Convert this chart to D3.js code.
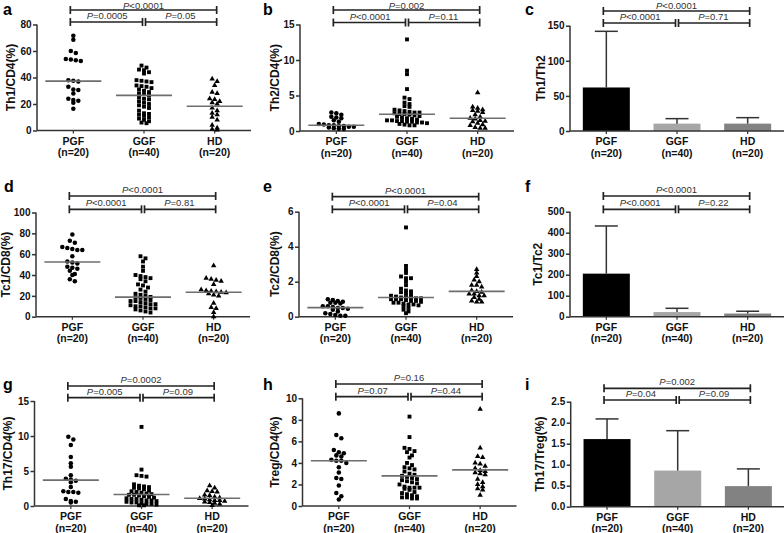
<!DOCTYPE html>
<html><head><meta charset="utf-8">
<script src="https://cdn.jsdelivr.net/npm/d3@7"></script>
<style>
html,body{margin:0;padding:0;background:#fff;}
svg{display:block;font-family:"Liberation Sans",Arial,sans-serif;}
</style></head>
<body>
<svg id="chart" width="784" height="533"></svg>
<script>
// ---------- DATA ----------
const categories = ["PGF", "GGF", "HD"];
const groupSizes = ["(n=20)", "(n=40)", "(n=20)"];

// a: Th1/CD4(%)
const aPGF = [71.5, 68.5, 60, 58.5, 54, 53.5, 53, 52.5, 38, 37.5, 37, 33, 31, 30.5, 28, 24, 23, 22.5, 21, 16.5];
const aGGF = [49, 47.5, 46, 45.5, 44, 43, 38, 37.5, 37, 36.5, 34, 33.5, 33, 32, 31, 30, 29, 28, 27.5, 26.5, 25, 24, 23.5, 22, 21, 20, 19, 18, 17, 15, 13, 12.5, 12, 11, 10, 9, 8, 7, 6, 5.5];
const aHD = [39, 37, 34, 29, 28, 24, 23.5, 22, 21, 20, 17, 15, 13, 12, 10, 8, 4, 2, 1, 0.5];
const aMedian = [37.3, 26.5, 18.3];
const aTicks = [0, 20, 40, 60, 80];
const aPvalues = ["<0.0001", "=0.0005", "=0.05"];

// b: Th2/CD4(%)
const bPGF = [2.6, 2.5, 2.3, 2.0, 1.9, 1.8, 1.5, 1.3, 1.0, 0.9, 0.8, 0.8, 0.7, 0.7, 0.6, 0.6, 0.5, 0.4, 0.3, 0.3];
const bGGF = [12.9, 8.5, 8.0, 5.9, 4.7, 4.5, 4.0, 3.8, 3.5, 3.4, 3.0, 2.9, 2.8, 2.7, 2.6, 2.6, 2.5, 2.4, 2.4, 2.3, 2.2, 2.1, 2.0, 1.9, 1.8, 1.7, 1.6, 1.5, 1.5, 1.4, 1.4, 1.3, 1.3, 1.2, 1.2, 1.1, 1.0, 0.9, 0.8, 0.8];
const bHD = [5.4, 3.4, 3.2, 3.0, 2.9, 2.8, 2.6, 2.3, 2.0, 1.8, 1.7, 1.5, 1.4, 1.3, 1.1, 0.9, 0.8, 0.5, 0.4, 0.4];
const bMedian = [0.8, 2.35, 1.8];
const bTicks = [0, 5, 10, 15];
const bPvalues = ["=0.002", "<0.0001", "=0.11"];

// c: Th1/Th2 (mean, upper error)
const cMean = [62, 10.5, 10.5];
const cError = [142, 17.6, 19];
const cTicks = [0, 50, 100, 150];
const cPvalues = ["<0.0001", "<0.0001", "=0.71"];

// d: Tc1/CD8(%)
const dPGF = [79, 73, 71, 67, 66, 65, 64, 64, 58, 53, 52, 51, 48, 47, 46, 44, 41, 40, 36, 34];
const dGGF = [58, 56, 53, 48, 44, 40, 39, 38, 37, 36, 34, 31, 30, 28, 26, 24, 22, 21, 20, 19, 18.5, 18, 17, 16, 15, 15, 14, 13, 12, 12, 11, 10, 10, 9, 8, 8, 7, 6, 5, 4];
const dHD = [49, 37, 36, 35, 34, 31, 26, 25, 24.5, 24, 23.5, 23, 22, 21, 20, 13, 9, 8, 4, 0];
const dMedian = [52.5, 18.8, 23.5];
const dTicks = [0, 20, 40, 60, 80, 100];
const dPvalues = ["<0.0001", "<0.0001", "=0.81"];

// e: Tc2/CD8(%)
const ePGF = [1.0, 0.95, 0.9, 0.85, 0.8, 0.8, 0.75, 0.6, 0.6, 0.55, 0.5, 0.5, 0.45, 0.4, 0.3, 0.2, 0.15, 0.1, 0.05, 0.05];
const eGGF = [5.1, 2.9, 2.7, 2.5, 2.3, 2.2, 2.2, 2.0, 1.8, 1.6, 1.5, 1.45, 1.4, 1.3, 1.25, 1.2, 1.15, 1.1, 1.1, 1.1, 1.05, 1.05, 1.0, 1.0, 1.0, 0.95, 0.9, 0.9, 0.85, 0.8, 0.8, 0.75, 0.7, 0.7, 0.65, 0.6, 0.5, 0.4, 0.3, 0.2];
const eHD = [2.7, 2.5, 2.3, 2.1, 2.0, 1.8, 1.8, 1.7, 1.5, 1.45, 1.4, 1.3, 1.3, 1.2, 1.2, 1.1, 1.0, 0.9, 0.85, 0.85];
const eMedian = [0.52, 1.1, 1.45];
const eTicks = [0, 2, 4, 6];
const ePvalues = ["<0.0001", "<0.0001", "=0.04"];

// f: Tc1/Tc2 (mean, upper error)
const fMean = [205, 22, 15];
const fError = [432, 40, 26];
const fTicks = [0, 100, 200, 300, 400, 500];
const fPvalues = ["<0.0001", "<0.0001", "=0.22"];

// g: Th17/CD4(%)
const gPGF = [9.9, 9.5, 8.7, 7.0, 6.1, 5.6, 4.4, 3.9, 3.8, 3.6, 3.4, 2.7, 2.1, 2.0, 2.0, 1.9, 1.0, 0.7, 0.6, 0.5];
const gGGF = [11.3, 5.2, 4.4, 4.3, 4.2, 3.1, 2.9, 2.8, 2.7, 2.6, 2.5, 2.4, 2.2, 2.1, 2.0, 1.9, 1.8, 1.7, 1.6, 1.6, 1.5, 1.4, 1.3, 1.2, 1.1, 1.0, 1.0, 0.9, 0.8, 0.8, 0.7, 0.6, 0.5, 0.5, 0.4, 0.3, 0.3, 0.2, 0.1, 0.1];
const gHD = [2.9, 2.6, 2.2, 2.1, 2.0, 1.6, 1.5, 1.3, 1.2, 1.1, 1.0, 0.9, 0.8, 0.8, 0.7, 0.6, 0.5, 0.4, 0.3, 0.1];
const gMedian = [3.7, 1.65, 1.1];
const gTicks = [0, 5, 10, 15];
const gPvalues = ["=0.0002", "=0.005", "=0.09"];

// h: Treg/CD4(%)
const hPGF = [8.6, 6.6, 6.3, 5.2, 5.0, 4.9, 4.7, 4.6, 4.3, 4.2, 4.2, 4.0, 3.6, 3.1, 2.6, 2.5, 1.9, 1.2, 0.9, 0.6];
const hGGF = [8.3, 6.4, 5.4, 5.3, 5.1, 5.0, 4.7, 4.5, 4.0, 3.8, 3.6, 3.5, 3.4, 3.2, 3.0, 2.9, 2.8, 2.7, 2.6, 2.5, 2.4, 2.3, 2.2, 2.1, 2.0, 1.8, 1.7, 1.7, 1.7, 1.6, 1.5, 1.3, 1.2, 1.1, 1.0, 0.9, 0.8, 0.8, 0.7, 0.7];
const hHD = [9.0, 5.4, 4.6, 4.5, 4.0, 3.9, 3.7, 3.5, 3.3, 3.2, 3.1, 3.0, 2.9, 2.5, 2.2, 2.0, 1.8, 1.6, 1.5, 1.0];
const hMedian = [4.2, 2.8, 3.35];
const hTicks = [0, 2, 4, 6, 8, 10];
const hPvalues = ["=0.16", "=0.07", "=0.44"];

// i: Th17/Treg(%) (mean, upper error)
const iMean = [1.61, 0.86, 0.49];
const iError = [2.09, 1.81, 0.9];
const iTicks = [0, 0.5, 1.0, 1.5, 2.0, 2.5];
const iPvalues = ["=0.002", "=0.04", "=0.09"];

// ---------- PANELS (layout) ----------
const panels = [
  {letter:"a", label:"Th1/CD4(%)",  type:"scatter", groups:[aPGF,aGGF,aHD], median:aMedian, ticks:aTicks, p:aPvalues,
   ax:37, top:24.5, bot:130.5, b1:10, b2:22, lx:3, ly:15, ylx:11, fmt:d3.format("d")},
  {letter:"b", label:"Th2/CD4(%)",  type:"scatter", groups:[bPGF,bGGF,bHD], median:bMedian, ticks:bTicks, p:bPvalues,
   ax:300, top:24.5, bot:131, b1:10, b2:22.5, lx:263, ly:15, ylx:275, fmt:d3.format("d")},
  {letter:"c", label:"Th1/Th2",     type:"bar", mean:cMean, err:cError, ticks:cTicks, p:cPvalues,
   ax:570, top:25.7, bot:131, b1:11, b2:23, lx:525, ly:15, ylx:541, fmt:d3.format("d")},
  {letter:"d", label:"Tc1/CD8(%)",  type:"scatter", groups:[dPGF,dGGF,dHD], median:dMedian, ticks:dTicks, p:dPvalues,
   ax:36, top:212.5, bot:316.7, b1:196, b2:209.3, lx:4, ly:192, ylx:6, fmt:d3.format("d")},
  {letter:"e", label:"Tc2/CD8(%)",  type:"scatter", groups:[ePGF,eGGF,eHD], median:eMedian, ticks:eTicks, p:ePvalues,
   ax:299, top:211.7, bot:316.7, b1:196.7, b2:209.3, lx:263, ly:192, ylx:275, fmt:d3.format("d")},
  {letter:"f", label:"Tc1/Tc2",     type:"bar", mean:fMean, err:fError, ticks:fTicks, p:fPvalues,
   ax:570, top:211.7, bot:316.7, b1:196, b2:209.3, lx:525, ly:192, ylx:538, fmt:d3.format("d")},
  {letter:"g", label:"Th17/CD4(%)", type:"scatter", groups:[gPGF,gGGF,gHD], median:gMedian, ticks:gTicks, p:gPvalues,
   ax:34.5, top:401, bot:506, b1:386, b2:397.7, lx:3, ly:390, ylx:8, fmt:d3.format("d")},
  {letter:"h", label:"Treg/CD4(%)", type:"scatter", groups:[hPGF,hGGF,hHD], median:hMedian, ticks:hTicks, p:hPvalues,
   ax:302.5, top:398.3, bot:506, b1:384, b2:396.7, lx:263, ly:390, ylx:275, fmt:d3.format("d")},
  {letter:"i", label:"Th17/Treg(%)", type:"bar", mean:iMean, err:iError, ticks:iTicks, p:iPvalues,
   ax:570.7, top:401.7, bot:506.7, b1:388.3, b2:400, lx:525, ly:390, ylx:540, fmt:d3.format(".1f")}
];

const barColors = ["#000000", "#a6a6a6", "#828282"];
const symbols = [d3.symbolCircle, d3.symbolSquare, d3.symbolTriangle];
const symbolSizes = [16, 15, 13];
const AXIS = "#333";

const svg = d3.select("#chart");

function swarm(values, y, cx, spacing, binH) {
  const pts = values.map(v => ({v, y: y(v)})).sort((a, b) => a.y - b.y);
  const groups = []; let cur = [];
  for (const p of pts) {
    if (cur.length && p.y - cur[0].y > binH) { groups.push(cur); cur = []; }
    cur.push(p);
  }
  if (cur.length) groups.push(cur);
  groups.forEach(g => g.forEach((p, i) => { p.x = cx + (i - (g.length - 1) / 2) * spacing; }));
  return pts;
}

function pText(g, x, y, str) {
  const t = g.append("text").attr("x", x).attr("y", y).attr("text-anchor", "middle")
    .attr("font-size", 9.5).attr("fill", "#333");
  t.append("tspan").attr("font-style", "italic").text("P");
  t.append("tspan").text(str);
}

function bracket(g, x1, x2, y) {
  g.append("line").attr("x1", x1).attr("x2", x2).attr("y1", y).attr("y2", y);
  g.append("line").attr("x1", x1).attr("x2", x1).attr("y1", y - 4).attr("y2", y + 4);
  g.append("line").attr("x1", x2).attr("x2", x2).attr("y1", y - 4).attr("y2", y + 4);
}

panels.forEach(P => {
  const g = svg.append("g");
  const maxV = P.ticks[P.ticks.length - 1];
  const y = d3.scaleLinear().domain([0, maxV]).range([P.bot, P.top]);
  const x = d3.scaleBand().domain(categories).range([P.ax + 1, P.ax + 213]).paddingInner(0.34).paddingOuter(0.17);
  const cx = c => x(c) + x.bandwidth() / 2;

  // bars
  if (P.type === "bar") {
    g.selectAll("rect.bar").data(categories).join("rect")
      .attr("x", c => cx(c) - 23.5).attr("width", 47)
      .attr("y", (c, i) => y(P.mean[i])).attr("height", (c, i) => y(0) - y(P.mean[i]))
      .attr("fill", (c, i) => barColors[i]);
    const eg = g.append("g").attr("stroke", "#333").attr("stroke-width", 1.5);
    categories.forEach((c, i) => {
      eg.append("line").attr("x1", cx(c)).attr("x2", cx(c)).attr("y1", y(P.mean[i])).attr("y2", y(P.err[i]));
      eg.append("line").attr("x1", cx(c) - 11.5).attr("x2", cx(c) + 11.5).attr("y1", y(P.err[i])).attr("y2", y(P.err[i]));
    });
  }

  // axes
  const yAxis = d3.axisLeft(y).tickValues(P.ticks).tickFormat(P.fmt).tickSize(4).tickPadding(1.5);
  const ya = g.append("g").attr("transform", `translate(${P.ax},0)`).call(yAxis);
  ya.select(".domain").attr("stroke", AXIS).attr("stroke-width", 1.5).attr("d", `M0,${P.top}V${P.bot}`);
  ya.selectAll(".tick line").attr("stroke", AXIS).attr("stroke-width", 1.5);
  ya.selectAll(".tick text").attr("font-size", 10).attr("font-weight", "bold").attr("fill", "#111")
    .attr("font-family", "Liberation Sans, Arial, sans-serif");

  const xa = g.append("g");
  xa.append("line").attr("x1", P.ax).attr("x2", Math.min(P.ax + 214, 784)).attr("y1", P.bot).attr("y2", P.bot)
    .attr("stroke", AXIS).attr("stroke-width", 1.5);
  categories.forEach((c, i) => {
    xa.append("line").attr("x1", cx(c)).attr("x2", cx(c)).attr("y1", P.bot).attr("y2", P.bot + 3)
      .attr("stroke", AXIS).attr("stroke-width", 1.2);
    xa.append("text").attr("x", cx(c)).attr("y", P.bot + 14).attr("text-anchor", "middle")
      .attr("font-size", 10.5).attr("font-weight", "bold").attr("fill", "#111").text(c);
    xa.append("text").attr("x", cx(c)).attr("y", P.bot + 25.5).attr("text-anchor", "middle")
      .attr("font-size", 10.5).attr("font-weight", "bold").attr("fill", "#111").text(groupSizes[i]);
  });

  // scatter points
  if (P.type === "scatter") {
    categories.forEach((c, i) => {
      const pts = swarm(P.groups[i], y, cx(c), 5, 3.4);
      g.append("g").selectAll("path").data(pts).join("path")
        .attr("transform", d => `translate(${d.x},${d.y})`)
        .attr("d", d3.symbol().type(symbols[i]).size(symbolSizes[i]))
        .attr("fill", "#000");
      g.append("line").attr("x1", cx(c) - 28).attr("x2", cx(c) + 28)
        .attr("y1", y(P.median[i])).attr("y2", y(P.median[i]))
        .attr("stroke", "#6e6e6e").attr("stroke-width", 1.6);
    });
  }

  // brackets
  const bg = g.append("g").attr("stroke", "#222").attr("stroke-width", 1.7);
  const xL = cx("PGF") - 3, xM = cx("GGF"), xR = cx("HD") + 2;
  bracket(bg, xL, xR, P.b1);
  bracket(bg, xL, xM - 1.5, P.b2);
  bracket(bg, xM + 1.5, xR, P.b2);
  pText(g, (xL + xR) / 2, Math.max(P.b1 - 3, 8.5), P.p[0]);
  pText(g, (xL + xM) / 2, P.b2 - 3, P.p[1]);
  pText(g, (xM + xR) / 2, P.b2 - 3, P.p[2]);

  // y label
  g.append("text").attr("transform", `translate(${P.ylx},${(P.top + P.bot) / 2}) rotate(-90)`)
    .attr("text-anchor", "middle").attr("dy", "0.35em")
    .attr("font-size", 12).attr("font-weight", "bold").attr("fill", "#111").text(P.label);

  // panel letter
  g.append("text").attr("x", P.lx).attr("y", P.ly).attr("font-size", 16).attr("font-weight", "bold")
    .attr("fill", "#000").text(P.letter);
});
</script>
</body></html>
